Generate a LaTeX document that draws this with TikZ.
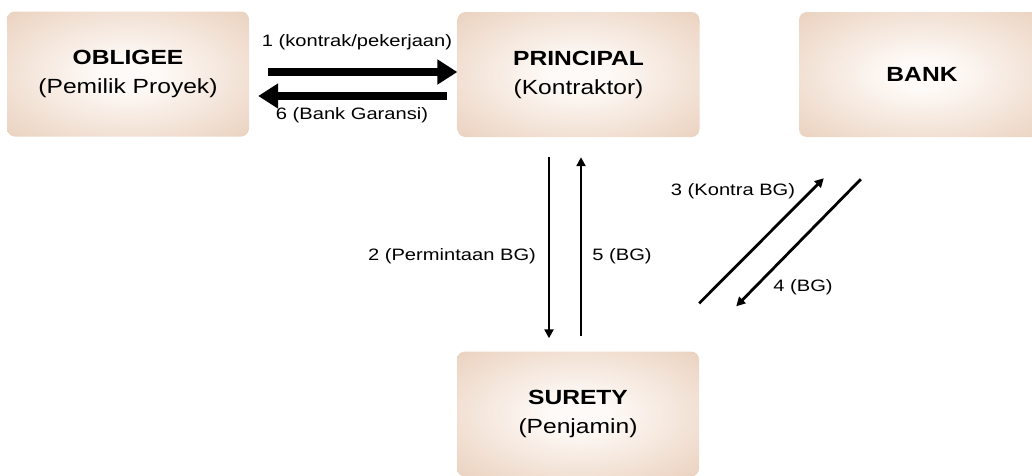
\documentclass[tikz,border=0pt]{standalone}
\usepackage{fontspec}
\setmainfont{Liberation Sans}
\newfontfamily\wfont[FakeStretch=1.2]{Liberation Sans}
\newfontfamily\lfont[FakeStretch=1.22]{Liberation Sans}
\usetikzlibrary{arrows.meta,calc}
\definecolor{boxin}{RGB}{254,250,247}
\definecolor{boxedge}{RGB}{229,198,175}
\pgfdeclareradialshading{boxshade}{\pgfpoint{0bp}{0bp}}{color(0bp)=(boxin); color(6bp)=(boxin); color(44bp)=(boxedge); color(70bp)=(boxedge)}
\tikzset{
  party/.style={rectangle, rounded corners=8pt, shading=boxshade, minimum width=242pt, minimum height=125pt, inner sep=0pt, align=center, font=\wfont\fontsize{20.5}{29}\selectfont},
  lbl/.style={inner sep=0pt, font=\lfont\fontsize{16.5}{19}\selectfont},
  thickarrow/.style={line width=8pt, -{Triangle[length=20pt,width=24pt]}},
  thinarrow/.style={line width=2.8pt, -{Triangle[length=9pt,width=9pt]}},
}
\begin{document}
\begin{tikzpicture}[x=1pt,y=-1pt]
\clip (0,0) rectangle (1032,475);
\fill[white] (0,0) rectangle (1032,475);
\node[party] (obl) at (128,74) {\textbf{OBLIGEE}\\(Pemilik Proyek)};
\node[party] (pri) at (578.5,74.5) {\textbf{PRINCIPAL}\\(Kontraktor)};
\node[party, minimum width=246pt] (bank) at (922,74.5) {\textbf{BANK}};
\node[party] (sur) at (578,414) {\textbf{SURETY}\\(Penjamin)};
\draw[thickarrow] ($(obl.east)+(19,-2)$) -- ($(pri.west)+(0,-2.5)$);
\draw[thickarrow] ($(pri.west)+(-10,21.5)$) -- ($(obl.east)+(9,22)$);
\draw[thinarrow] ($(pri.south)+(-29.5,20)$) -- ($(sur.north)+(-29,-13)$);
\draw[thinarrow] ($(sur.north)+(3,-15)$) -- ($(pri.south)+(2.5,20)$);
\draw[thinarrow] ($(sur.north east)+(0,-48)$) -- ($(bank.south west)+(25,41)$);
\draw[thinarrow] ($(bank.south west)+(62,42)$) -- ($(sur.north east)+(37,-45)$);
\node[lbl] (l1) at (357,42) {1 (kontrak/pekerjaan)};
\node[lbl] (l6) at (352,115) {6 (Bank Garansi)};
\node[lbl] (l2) at (452,256) {2 (Permintaan BG)};
\node[lbl] (l5) at (622,256) {5 (BG)};
\node[lbl] (l3) at (733,191) {3 (Kontra BG)};
\node[lbl] (l4) at (803,287) {4 (BG)};
\end{tikzpicture}
\end{document}
